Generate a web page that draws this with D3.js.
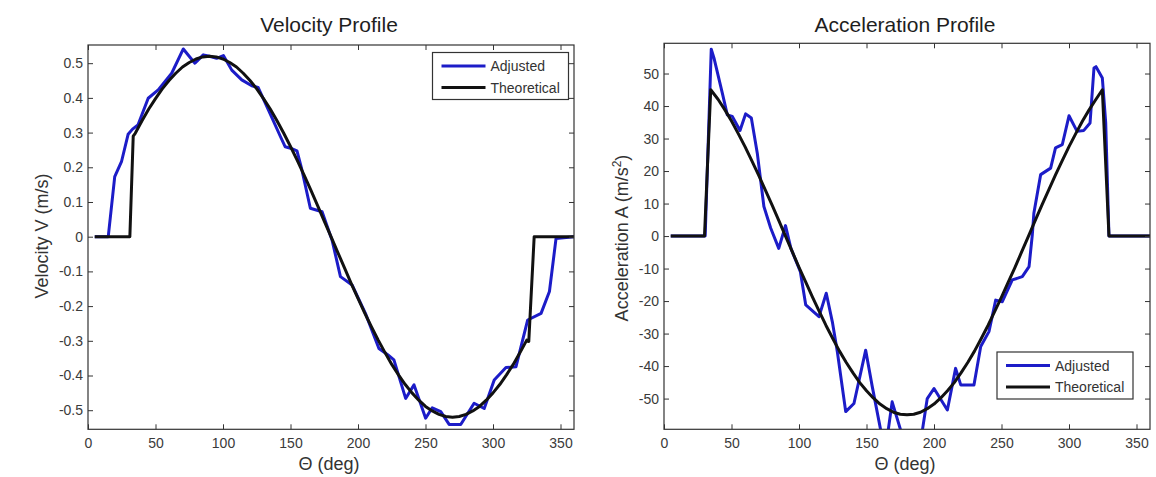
<!DOCTYPE html>
<html>
<head>
<meta charset="utf-8">
<script src="https://cdn.jsdelivr.net/npm/d3@7"></script>
<style>
  html, body { margin: 0; padding: 0; background: #fff; }
  svg { display: block; font-family: "Liberation Sans", Arial, Helvetica, sans-serif; }
</style>
</head>
<body>
<svg id="chart" width="1156" height="477"></svg>
<script>
// ---- Velocity profile data (theta in degrees, V in m/s) ----
const velTheoTheta = [5, 31, 33.5, 35, 40, 45, 50, 55, 60, 65, 70, 75, 80, 85, 90, 95, 100, 105, 110, 115, 120, 125, 130, 135, 140, 145, 150, 155, 160, 165, 170, 175, 180, 185, 190, 195, 200, 205, 210, 215, 220, 225, 230, 235, 240, 245, 250, 255, 260, 265, 270, 275, 280, 285, 290, 295, 300, 305, 310, 315, 320, 325, 326.5, 330.5, 360];
const velTheo      = [0, 0, 0.29, 0.298, 0.334, 0.368, 0.398, 0.426, 0.450, 0.471, 0.489, 0.502, 0.512, 0.518, 0.520, 0.518, 0.512, 0.502, 0.489, 0.471, 0.450, 0.426, 0.398, 0.368, 0.334, 0.298, 0.260, 0.220, 0.178, 0.135, 0.090, 0.045, 0, -0.045, -0.090, -0.135, -0.178, -0.220, -0.260, -0.298, -0.334, -0.368, -0.398, -0.426, -0.450, -0.471, -0.489, -0.502, -0.512, -0.518, -0.520, -0.518, -0.512, -0.502, -0.489, -0.471, -0.450, -0.426, -0.398, -0.368, -0.334, -0.298, -0.302, 0, 0];

const velAdjTheta = [5, 15, 19.8, 24.8, 29.7, 33, 37, 44.6, 52, 62, 70.6, 76, 79.2, 85.4, 90, 95.3, 100.3, 106.5, 113.9, 121.3, 126, 133.7, 142.6, 146.1, 150, 154.8, 158, 164.7, 173.4, 180.8, 187, 195.6, 205.5, 215.5, 222, 226.6, 235.3, 241.5, 250.1, 255, 261.3, 267.5, 276.1, 286, 293.5, 300.9, 309.6, 317, 325.7, 335.6, 341.8, 346.7, 360];
const velAdj      = [0, 0, 0.173, 0.216, 0.295, 0.310, 0.322, 0.399, 0.423, 0.471, 0.541, 0.515, 0.500, 0.524, 0.520, 0.514, 0.522, 0.480, 0.452, 0.435, 0.430, 0.365, 0.288, 0.259, 0.255, 0.247, 0.200, 0.082, 0.072, -0.010, -0.115, -0.139, -0.221, -0.322, -0.340, -0.355, -0.466, -0.427, -0.523, -0.493, -0.504, -0.541, -0.541, -0.480, -0.495, -0.413, -0.377, -0.375, -0.240, -0.221, -0.158, -0.005, 0];

// ---- Acceleration profile data (theta in degrees, A in m/s^2) ----
const accTheoTheta = [5, 30, 34.6, 40, 45, 50, 55, 60, 65, 70, 75, 80, 85, 90, 95, 100, 105, 110, 115, 120, 125, 130, 135, 140, 145, 150, 155, 160, 165, 170, 175, 180, 185, 190, 195, 200, 205, 210, 215, 220, 225, 230, 235, 240, 245, 250, 255, 260, 265, 270, 275, 280, 285, 290, 295, 300, 305, 310, 315, 320, 324.7, 329.6, 360];
const accTheo      = [0, 0, 45.0, 42.1, 38.9, 35.4, 31.5, 27.5, 23.2, 18.8, 14.2, 9.6, 4.8, 0, -4.8, -9.6, -14.2, -18.8, -23.2, -27.5, -31.5, -35.4, -38.9, -42.1, -45.1, -47.6, -49.8, -51.7, -53.1, -54.2, -54.8, -55.0, -54.8, -54.2, -53.1, -51.7, -49.8, -47.6, -45.1, -42.1, -38.9, -35.4, -31.5, -27.5, -23.2, -18.8, -14.2, -9.6, -4.8, 0, 4.8, 9.6, 14.2, 18.8, 23.2, 27.5, 31.5, 35.4, 38.9, 42.1, 45.0, 0, 0];

const accAdjTheta = [5, 30.5, 35, 37, 43.2, 46.9, 50.6, 56.3, 60.5, 64.7, 69.1, 74, 79, 85, 90, 94, 101, 105, 114.8, 120.2, 124.7, 128.4, 134.6, 140.7, 149.4, 154.3, 160.5, 164, 169, 175.3, 183, 191.4, 195, 200, 209.9, 216, 219.8, 229.6, 234.6, 240.7, 245.7, 250.6, 258, 265.4, 270.4, 272.8, 274, 279, 286.4, 290, 295, 300, 306, 311, 315.6, 318.5, 320, 324.7, 327.2, 329.6, 360];
const accAdj      = [0, 0, 57.5, 54.8, 44.0, 37.3, 36.8, 32.5, 37.6, 36.3, 25.5, 9.1, 2.5, -3.8, 3.2, -3.8, -11.0, -21.2, -24.8, -17.6, -26.4, -35.6, -54.0, -51.5, -35.1, -46.4, -59.7, -66.0, -51.0, -59.7, -68.0, -59.7, -50.0, -46.9, -53.5, -40.7, -45.8, -45.8, -34.0, -29.4, -19.7, -20.2, -13.5, -12.5, -9.4, 0.3, 7.1, 18.9, 20.9, 27.1, 28.1, 37.0, 32.2, 32.5, 34.8, 51.7, 52.1, 48.6, 34.8, 0, 0];

// ---- Tick values ----
const thetaTicks = [0, 50, 100, 150, 200, 250, 300, 350];
const velTicks = [-0.5, -0.4, -0.3, -0.2, -0.1, 0, 0.1, 0.2, 0.3, 0.4, 0.5];
const accTicks = [-50, -40, -30, -20, -10, 0, 10, 20, 30, 40, 50];

const seriesNames = ["Adjusted", "Theoretical"];
const seriesColors = ["#1c1cc8", "#111111"];

const svg = d3.select("#chart");

function zip(xs, ys) { return xs.map((x, i) => [x, ys[i]]); }

function drawPanel(cfg) {
  const g = svg.append("g");
  const x = d3.scaleLinear().domain([0, 360]).range([cfg.left, cfg.right]);
  const y = d3.scaleLinear().domain(cfg.yDomain).range([cfg.bottom, cfg.top]);

  const clipId = "clip-" + cfg.id;
  svg.append("clipPath").attr("id", clipId)
    .append("rect")
    .attr("x", cfg.left).attr("y", cfg.top)
    .attr("width", cfg.right - cfg.left).attr("height", cfg.bottom - cfg.top);

  const line = d3.line().x(d => x(d[0])).y(d => y(d[1]));

  const plot = g.append("g").attr("clip-path", `url(#${clipId})`);
  plot.append("path")
    .datum(zip(cfg.adjTheta, cfg.adj))
    .attr("d", line)
    .attr("fill", "none")
    .attr("stroke", seriesColors[0])
    .attr("stroke-width", 3)
    .attr("stroke-linejoin", "round");
  plot.append("path")
    .datum(zip(cfg.theoTheta, cfg.theo))
    .attr("d", line)
    .attr("fill", "none")
    .attr("stroke", seriesColors[1])
    .attr("stroke-width", 3)
    .attr("stroke-linejoin", "round");

  const tickColor = "#3a3a3a";
  const fmt = cfg.fmt;

  // axes with inward ticks on all four sides
  const bottomAxis = g.append("g")
    .attr("transform", `translate(0,${cfg.bottom})`)
    .call(d3.axisBottom(x).tickValues(thetaTicks).tickSizeInner(-5).tickSizeOuter(0).tickPadding(6));
  const topAxis = g.append("g")
    .attr("transform", `translate(0,${cfg.top})`)
    .call(d3.axisTop(x).tickValues(thetaTicks).tickSizeInner(-5).tickSizeOuter(0).tickFormat(""));
  const leftAxis = g.append("g")
    .attr("transform", `translate(${cfg.left},0)`)
    .call(d3.axisLeft(y).tickValues(cfg.yTicks).tickSizeInner(-5).tickSizeOuter(0).tickPadding(5).tickFormat(fmt));
  const rightAxis = g.append("g")
    .attr("transform", `translate(${cfg.right},0)`)
    .call(d3.axisRight(y).tickValues(cfg.yTicks).tickSizeInner(-5).tickSizeOuter(0).tickFormat(""));

  [bottomAxis, topAxis, leftAxis, rightAxis].forEach(a => {
    a.select(".domain").remove();
    a.selectAll(".tick line").attr("stroke", "#333").attr("stroke-width", 1);
    a.selectAll(".tick text")
      .attr("fill", tickColor)
      .style("font-size", "14px")
      .style("font-family", "'Liberation Sans', Arial, sans-serif");
  });
  bottomAxis.selectAll(".tick text").attr("dy", "0.9em");

  // box
  g.append("rect")
    .attr("x", cfg.left).attr("y", cfg.top)
    .attr("width", cfg.right - cfg.left).attr("height", cfg.bottom - cfg.top)
    .attr("fill", "none").attr("stroke", "#333").attr("stroke-width", 1.2);

  // title
  g.append("text")
    .attr("x", (cfg.left + cfg.right) / 2 - 2).attr("y", 32)
    .attr("text-anchor", "middle")
    .attr("fill", "#1e1e1e")
    .style("font-size", "21px")
    .text(cfg.title);

  // x label
  g.append("text")
    .attr("x", (cfg.left + cfg.right) / 2 - 2).attr("y", 470)
    .attr("text-anchor", "middle")
    .attr("fill", "#333")
    .style("font-size", "18px")
    .text("\u0398 (deg)");

  // y label
  const yl = g.append("text")
    .attr("transform", `translate(${cfg.yLabelX},${cfg.yLabelY}) rotate(-90)`)
    .attr("text-anchor", "middle")
    .attr("fill", "#333")
    .style("font-size", "18px");
  cfg.yLabel(yl);

  // legend
  const L = cfg.legend;
  const lg = g.append("g");
  lg.append("rect")
    .attr("x", L.x).attr("y", L.y).attr("width", L.w).attr("height", L.h)
    .attr("fill", "#fff").attr("stroke", "#333").attr("stroke-width", 1.2);
  seriesNames.forEach((name, i) => {
    const cy = L.y + 13.5 + i * 21.5;
    lg.append("line")
      .attr("x1", L.x + 9).attr("x2", L.x + 53)
      .attr("y1", cy).attr("y2", cy)
      .attr("stroke", seriesColors[i]).attr("stroke-width", 3);
    lg.append("text")
      .attr("x", L.x + 58).attr("y", cy)
      .attr("dy", "0.36em")
      .attr("fill", "#333")
      .style("font-size", "14px")
      .text(name);
  });
}

drawPanel({
  id: "vel",
  left: 88, right: 574, top: 45, bottom: 429.3,
  yDomain: [-0.555, 0.5524],
  yTicks: velTicks,
  fmt: d => d === 0 ? "0" : d3.format(".1f")(d).replace("\u2212", "-"),
  theoTheta: velTheoTheta, theo: velTheo,
  adjTheta: velAdjTheta, adj: velAdj,
  title: "Velocity Profile",
  yLabelX: 48, yLabelY: 236,
  yLabel: t => t.text("Velocity V (m/s)"),
  legend: { x: 432.5, y: 52.5, w: 136, h: 47 }
});

drawPanel({
  id: "acc",
  left: 664, right: 1150, top: 43.3, bottom: 429.3,
  yDomain: [-59.45, 59.3],
  yTicks: accTicks,
  fmt: d => String(d),
  theoTheta: accTheoTheta, theo: accTheo,
  adjTheta: accAdjTheta, adj: accAdj,
  title: "Acceleration Profile",
  yLabelX: 628, yLabelY: 238,
  yLabel: t => {
    t.append("tspan").text("Acceleration A (m/s");
    t.append("tspan").attr("baseline-shift", "super").style("font-size", "12px").text("2");
    t.append("tspan").text(")");
  },
  legend: { x: 997, y: 352, w: 136, h: 47 }
});
</script>
</body>
</html>
